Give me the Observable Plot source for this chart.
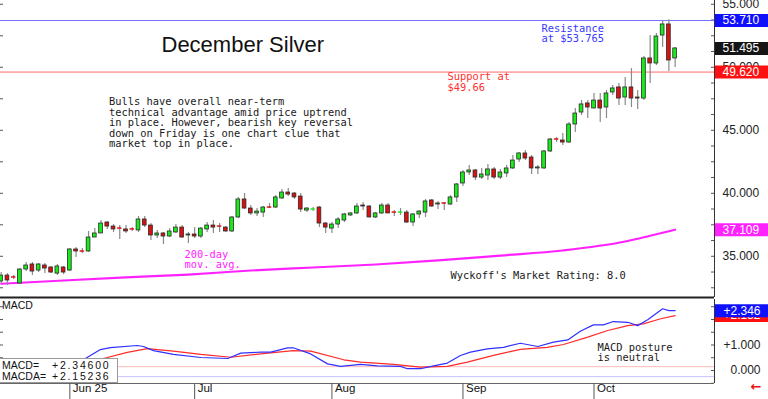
<!DOCTYPE html>
<html><head><meta charset="utf-8">
<script src="https://cdn.jsdelivr.net/npm/d3@7"></script>
<script src="https://cdn.jsdelivr.net/npm/@observablehq/plot@0.6"></script>
<style>
html,body{margin:0;padding:0;background:#fff;}
#wrap{position:relative;width:768px;height:399px;overflow:hidden;background:#fff;}
#price{position:absolute;left:0;top:0;}
#macd{position:absolute;left:0;top:299px;}
#info{position:absolute;left:-1px;top:358px;width:119px;height:25px;box-sizing:border-box;border:1px solid #9a9a9a;background:#fff;
  font-family:"Liberation Sans",Arial,sans-serif;font-size:10.5px;line-height:10.5px;color:#111;}
#info span{position:absolute;white-space:pre;}
#info .v{letter-spacing:1.8px;}
</style></head>
<body>
<div id="wrap"><div id="price"></div><div id="macd"></div>
<div id="info"><span style="left:2px;top:1px">MACD=</span><span class="v" id="mv" style="left:52px;top:1px"></span><span style="left:2px;top:12px">MACDA=</span><span class="v" id="sv" style="left:52px;top:12px"></span></div>
</div>
<script>
// ---------- DATA ----------
const opens  = [33.00,33.47,33.34,32.84,33.95,34.35,33.87,34.27,34.11,33.63,34.11,33.87,35.54,35.40,35.38,36.49,36.81,37.68,37.36,37.22,37.13,37.15,37.05,37.92,37.44,36.65,36.81,36.57,36.89,37.28,36.65,36.73,36.57,37.13,37.44,37.38,37.28,36.97,38.08,39.51,38.79,38.40,38.47,38.89,38.87,39.59,40.06,39.98,39.74,38.63,38.69,38.87,37.60,37.20,37.52,37.84,38.24,38.40,39.03,38.95,38.08,38.40,39.03,38.49,38.45,38.47,37.68,38.32,38.47,39.43,39.11,39.21,39.11,39.67,40.78,41.65,41.81,41.25,41.41,41.89,41.25,41.57,41.97,42.68,43.16,42.84,41.97,41.97,43.32,44.29,44.19,44.03,45.46,46.41,47.13,46.73,47.36,46.81,48.00,48.40,47.60,48.40,47.60,47.52,50.70,50.30,52.52,53.40,50.70];
const highs  = [33.71,33.63,33.47,34.03,34.51,34.51,34.43,34.43,34.19,34.35,34.19,35.62,35.70,35.62,36.97,37.20,37.84,37.76,37.52,37.44,37.44,37.28,38.16,38.16,37.60,37.05,36.89,37.20,37.52,37.44,36.89,37.28,37.28,37.68,37.84,37.60,37.36,38.16,39.67,39.98,39.03,38.79,38.95,39.19,39.82,40.30,40.38,40.06,39.98,38.87,38.87,38.95,37.68,37.68,38.08,38.40,38.47,39.19,39.27,39.03,38.47,39.19,39.19,38.63,38.79,38.63,38.40,38.63,39.51,39.51,39.35,39.25,39.82,40.78,41.81,42.20,41.89,41.97,42.28,42.05,41.89,42.20,43.00,43.24,43.40,43.00,42.20,43.40,44.35,44.43,44.74,45.62,46.73,47.36,47.36,47.92,47.92,48.16,48.55,48.71,49.19,49.90,48.16,50.86,52.52,52.68,53.71,53.765,51.57];
const lows   = [32.84,32.68,33.16,32.76,33.79,33.47,33.71,33.63,33.63,33.47,33.55,33.79,34.90,35.22,35.30,36.49,36.81,37.13,36.89,36.33,36.81,36.97,36.89,37.28,36.25,36.41,35.94,36.49,36.81,36.41,36.01,36.41,36.41,36.89,36.81,36.89,36.89,36.89,38.00,38.71,38.24,38.16,38.08,38.79,38.79,39.51,39.74,39.51,38.47,38.47,38.55,37.28,36.81,36.81,37.20,37.68,38.16,38.32,38.63,38.05,38.00,38.32,38.38,38.16,38.24,37.60,37.36,38.00,38.08,38.87,38.71,38.63,39.03,39.27,40.54,41.41,41.01,41.09,41.01,41.09,41.09,41.25,41.89,42.44,42.60,41.49,41.49,41.89,43.24,44.03,43.79,43.95,44.82,46.17,45.93,46.70,45.62,45.93,47.76,46.97,46.97,46.81,46.65,47.36,48.71,50.14,51.57,49.66,49.98];
const closes = [33.47,33.08,33.30,33.95,34.27,33.79,34.35,34.03,33.71,34.19,33.71,35.54,35.38,35.36,36.49,36.81,37.60,37.36,37.13,37.18,36.97,37.11,37.92,37.44,36.65,36.81,36.57,36.97,37.28,36.49,36.73,36.57,37.20,37.44,37.28,37.34,36.97,38.08,39.51,38.79,38.40,38.55,38.87,38.85,39.67,40.06,39.90,39.67,38.71,38.79,38.73,37.60,37.28,37.52,37.92,38.32,38.40,38.95,38.95,38.08,38.40,39.03,38.40,38.45,38.49,37.68,38.32,38.55,39.35,38.95,39.19,39.17,39.67,40.70,41.65,41.81,41.25,41.49,41.89,41.25,41.65,41.97,42.60,43.16,42.76,41.97,42.05,43.32,44.27,44.25,44.03,45.46,46.33,47.05,46.81,47.36,46.73,47.92,48.32,47.52,48.40,47.52,47.52,50.70,50.30,52.44,53.40,50.54,51.495];

const maIdx = [0,10,20,30,40,50,60,70,80,90,100,104,108];
const maVal = [32.82,33.08,33.32,33.55,33.87,34.11,34.35,34.67,35.06,35.46,36.17,36.63,37.109];

const macdIdx = [0,6,11,13.5,15.9,17.5,21.8,22.8,24.4,27.6,32,36.3,38.4,41.6,43.2,45.9,46.8,49.6,52.3,54.4,57.6,60.3,64,65.1,67.2,69.3,71.5,73.6,75.2,77.9,80.5,83.2,86,88.5,90.8,92.8,94.9,96.5,98.1,100.4,102,103.6,106,107,108];
const macdVal = [-0.1,0.05,0.25,0.47,0.82,0.90,0.98,0.94,0.78,0.63,0.51,0.47,0.68,0.72,0.72,0.89,0.89,0.65,0.26,0.16,0.24,0.18,0.16,0.07,0.07,0.18,0.29,0.59,0.72,0.85,0.91,1.07,0.94,1.11,1.20,1.54,1.79,1.79,1.92,1.89,1.76,1.99,2.42,2.35,2.346];
const sigIdx = [0,8,13,16.4,20.2,23.4,27.6,32,36.8,41.6,46.8,49.6,54.9,57.6,62.9,67.2,71.5,74.7,78.9,83.2,87.5,90.1,94,97.2,100.4,102.9,105.7,108];
const sigVal = [-0.05,0.1,0.3,0.47,0.71,0.86,0.76,0.63,0.52,0.65,0.78,0.76,0.42,0.33,0.24,0.13,0.16,0.33,0.59,0.83,0.91,1.02,1.31,1.57,1.76,1.83,2.03,2.152];
const macdRefLevels = [0.15, -0.24];

const resistance = 53.71, support = 49.62, lastClose = 51.495, maLast = 37.109;
const macdLast = 2.346, macdaLast = 2.15236;

const priceTickValues = [35, 40, 45, 50, 55];
const priceMinorTicks = [32.5,33.75,35,36.25,37.5,38.75,40,41.25,42.5,43.75,45,46.25,47.5,48.75,50,51.25,52.5,53.75,55];
const priceLeftTicks = [32.5,35,37.5,40,42.5,45,47.5,50,52.5,55];
const macdTickValues = [0, 1];
const macdMinorTicks = [-0.5,0,0.5,1,1.5,2,2.5];
const monthIdx = [11, 31, 53, 74, 95];
const monthLabels = ["Jun 25", "Jul", "Aug", "Sep", "Oct"];

const titleText = "December Silver";
const noteText = "Bulls have overall near-term\ntechnical advantage amid price uptrend\nin place. However, bearish key reversal\ndown on Friday is one chart clue that\nmarket top in place.";
const supportText = "Support at\n$49.66";
const resistText = "Resistance\nat $53.765";
const maText = "200-day\nmov. avg.";
const ratingText = "Wyckoff's Market Rating: 8.0";
const postureText = "MACD posture\nis neutral";

// ---------- BUILD ----------
const X_DOMAIN = [-0.112, 114.31];
const P_DOMAIN = [31.729, 55.3];
const M_DOMAIN = [-0.5098, 2.7843];
const GREEN = "#19ea19", RED = "#dc1010", BLUE = "#3838ff", PINK = "#ff22ff";
const MONO = "DejaVu Sans Mono", SANS = "Liberation Sans";

const candles = opens.map((o, i) => ({i, o, h: highs[i], l: lows[i], c: closes[i]}));
const maPts = maIdx.map((i, k) => ({i, v: maVal[k]}));
const macdPts = macdIdx.map((i, k) => ({i, v: macdVal[k]}));
const sigPts = sigIdx.map((i, k) => ({i, v: sigVal[k]}));
const fmt3 = d3.format(".3f");
const tags = [
  {v: resistance, col: "#1010ff"},
  {v: lastClose, col: "#151515"},
  {v: support, col: "#ff1010"},
  {v: maLast, col: "#ff22ff"}
];
const isDoji = d => Math.abs(d.c - d.o) < 0.06;
const bodyCol = d => d.c >= d.o ? GREEN : RED;

const note = (txt, dx, dy, fill, label) => Plot.text([txt], {text: d => d, frameAnchor: "top-left", dx, dy, lineAnchor: "top", textAnchor: "start", fontFamily: MONO, fontSize: 10.4, lineHeight: 1.01, fill, ariaLabel: label || "note"});

const price = Plot.plot({
  width: 768, height: 299, marginLeft: 0, marginRight: 54, marginTop: 0, marginBottom: 2,
  x: {domain: X_DOMAIN, axis: null},
  y: {domain: P_DOMAIN, axis: null},
  color: {type: "identity"},
  style: {background: "transparent"},
  marks: [
    Plot.ruleY(priceLeftTicks, {insetRight: 711, stroke: "#555"}),
    Plot.ruleY(priceMinorTicks, {insetLeft: 711, stroke: "#555"}),
    Plot.ruleY([resistance], {stroke: "#7070ff"}),
    Plot.ruleY([support], {stroke: "#ff6a6a"}),
    Plot.line(maPts, {x: "i", y: "v", stroke: PINK, strokeWidth: 2.2, curve: "monotone-x"}),
    Plot.ruleX(candles, {x: "i", y1: "l", y2: "h", stroke: "#8a8a8a", strokeWidth: 1.2}),
    Plot.rect(candles, {x1: d => d.i - 0.3, x2: d => d.i + 0.3, y1: "o", y2: "c", fill: bodyCol,
      stroke: d => isDoji(d) ? bodyCol(d) : "#2a2a2a", strokeWidth: 0.8}),
    Plot.ruleX([X_DOMAIN[1]], {stroke: "#333"}),
    Plot.ruleY([P_DOMAIN[0]], {stroke: "#222", strokeWidth: 2}),
    Plot.text(priceTickValues, {y: d => d, text: d => fmt3(d), frameAnchor: "right", dx: 8, textAnchor: "start",
      fontFamily: SANS, fontSize: 12, fill: "#222", ariaLabel: "axislab"}),
    Plot.ruleY(tags, {y: "v", stroke: "col", strokeWidth: 13, insetLeft: 715, insetRight: -54}),
    Plot.text(tags, {y: "v", text: d => fmt3(d.v), frameAnchor: "right", dx: 8, textAnchor: "start",
      fontFamily: SANS, fontSize: 12, fill: "white", ariaLabel: "axislab"}),
    Plot.text([titleText], {text: d => d, frameAnchor: "top-left", dx: 161, dy: 36, lineAnchor: "top", textAnchor: "start",
      fontFamily: SANS, fontSize: 22, fill: "#111", ariaLabel: "title"}),
    note(noteText, 108.5, 97.5, "#1a1a1a"),
    note(supportText, 447, 72.5, "#ff3030"),
    note(resistText, 541, 24, BLUE),
    note(maText, 184, 250, PINK),
    note(ratingText, 450, 271.5, "#1a1a1a")
  ]
});
document.getElementById("price").appendChild(price);

const macd = Plot.plot({
  width: 768, height: 100, marginLeft: 0, marginRight: 54, marginTop: 0, marginBottom: 16,
  x: {domain: X_DOMAIN, axis: null},
  y: {domain: M_DOMAIN, axis: null},
  color: {type: "identity"},
  style: {background: "transparent"},
  marks: [
    Plot.ruleY(macdMinorTicks, {insetRight: 711, stroke: "#555"}),
    Plot.ruleY(macdMinorTicks, {insetLeft: 711, stroke: "#555"}),
    Plot.ruleY([macdRefLevels[0]], {stroke: "#ffb8b8"}),
    Plot.ruleY([macdRefLevels[1]], {stroke: "#c4c4ff"}),
    Plot.line(sigPts, {x: "i", y: "v", stroke: "#ff2a2a", strokeWidth: 1.2}),
    Plot.line(macdPts, {x: "i", y: "v", stroke: "#3030ff", strokeWidth: 1.2}),
    Plot.ruleX([X_DOMAIN[1]], {stroke: "#333"}),
    Plot.ruleY([M_DOMAIN[0]], {stroke: "#666"}),
    Plot.ruleX(monthIdx, {x: d => d, insetTop: 84, insetBottom: -16, stroke: "#555"}),
    Plot.text(monthIdx, {x: d => d, text: (d, k) => monthLabels[k], frameAnchor: "bottom", dx: 3, dy: 8.5, textAnchor: "start",
      fontFamily: SANS, fontSize: 11.5, fill: "#111", ariaLabel: "monthlab"}),
    Plot.text(macdTickValues, {y: d => d, text: d => (d > 0 ? "+" : "") + fmt3(d), frameAnchor: "right", dx: 46, textAnchor: "end",
      fontFamily: SANS, fontSize: 12, fill: "#222", ariaLabel: "axislab"}),
    Plot.ruleY([macdaLast], {stroke: "#ff1010", strokeWidth: 13, insetLeft: 715, insetRight: -54}),
    Plot.text([macdaLast], {y: d => d, text: d => d3.format("+.3f")(d), frameAnchor: "right", dx: 46, textAnchor: "end",
      fontFamily: SANS, fontSize: 12, fill: "white", ariaLabel: "axislab"}),
    Plot.ruleY([macdLast], {stroke: "#1010ff", strokeWidth: 13, insetLeft: 715, insetRight: -54}),
    Plot.text([macdLast], {y: d => d, text: d => d3.format("+.3f")(d), frameAnchor: "right", dx: 46, textAnchor: "end",
      fontFamily: SANS, fontSize: 12, fill: "white", ariaLabel: "axislab"}),
    Plot.text(["MACD"], {text: d => d, frameAnchor: "top-left", dx: 1.5, dy: 2.5, lineAnchor: "top", textAnchor: "start",
      fontFamily: SANS, fontSize: 10.5, fill: "#111"}),
    note(postureText, 597, 43.7, "#1a1a1a"),
    Plot.text(["\u2190"], {text: d => d, frameAnchor: "bottom-right", dx: 47, dy: 7, fontFamily: "DejaVu Sans", fontSize: 13,
      fontWeight: "bold", fill: "#ee1010"})
  ]
});
document.getElementById("macd").appendChild(macd);

document.getElementById("mv").textContent = d3.format("+.5f")(macdLast);
document.getElementById("sv").textContent = d3.format("+.5f")(macdaLast);

// letter spacing for the bitmap-like sans labels
const spacing = (svg, label, ls) => svg.querySelectorAll(`g[aria-label="${label}"] text`).forEach(t => t.setAttribute("letter-spacing", ls));
[price, macd].forEach(svg => {
  spacing(svg, "title", "1.8px");
  spacing(svg, "axislab", "1.3px");
  spacing(svg, "monthlab", "1.2px");
});
</script>
</body></html>
